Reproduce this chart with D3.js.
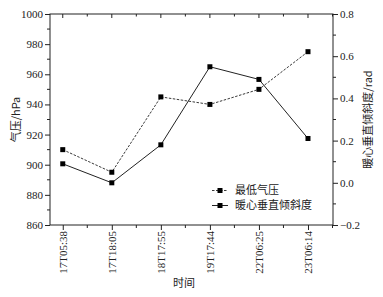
<!DOCTYPE html>
<html><head><meta charset="utf-8">
<script src="https://cdn.jsdelivr.net/npm/d3@7"></script>
<style>body{margin:0;background:#fff}svg{display:block}</style>
</head><body>
<svg id="c" width="383" height="297"></svg>
<script>
const categories = ["17T05:38","17T18:05","18T17:55","19T17:44","22T06:25","23T06:14"];
const pressure = [910, 895, 945, 940, 950, 975];
const tilt = [0.09, 0.00, 0.18, 0.55, 0.49, 0.21];
const leftTicks = [860, 880, 900, 920, 940, 960, 980, 1000];
const rightTicks = [-0.2, 0.0, 0.2, 0.4, 0.6, 0.8];
const seriesNames = ["最低气压", "暖心垂直倾斜度"];

const svg = d3.select("#c");
const L = 50, R = 333, T = 14, B = 225;
const x = d3.scaleLinear().domain([-0.26, 5.51]).range([L, R]);
const yL = d3.scaleLinear().domain([860, 1000]).range([B, T]);
const yR = d3.scaleLinear().domain([-0.2, 0.8]).range([B, T]);
const serif = "'Liberation Serif','Times New Roman',serif";
const cjk = "'Noto Sans CJK SC',sans-serif";
const col = "#222";

const g = svg.append("g");
// frame
g.append("rect").attr("x", L).attr("y", T).attr("width", R - L).attr("height", B - T)
  .attr("fill", "none").attr("stroke", col).attr("stroke-width", 1);

// left axis
const leftAxis = d3.axisLeft(yL).tickValues(leftTicks).tickSize(5).tickPadding(2).tickFormat(d3.format("d"));
const la = g.append("g").attr("transform", `translate(${L},0)`).call(leftAxis);
const leftMinor = d3.range(870, 1000, 20);
g.append("g").selectAll("line").data(leftMinor).join("line")
  .attr("x1", L - 3).attr("x2", L).attr("y1", d => yL(d)).attr("y2", d => yL(d)).attr("stroke", col);

// right axis
const rightAxis = d3.axisRight(yR).tickValues(rightTicks).tickSize(5).tickPadding(2)
  .tickFormat(d => d3.format(".1f")(d).replace("-", "\u2212"));
const ra = g.append("g").attr("transform", `translate(${R},0)`).call(rightAxis);
const rightMinor = [-0.1, 0.1, 0.3, 0.5, 0.7];
g.append("g").selectAll("line").data(rightMinor).join("line")
  .attr("x1", R).attr("x2", R + 3).attr("y1", d => yR(d)).attr("y2", d => yR(d)).attr("stroke", col);

// bottom axis
const idx = d3.range(categories.length);
const bottomAxis = d3.axisBottom(x).tickValues(idx).tickSize(5).tickPadding(3).tickFormat(i => categories[i]);
const ba = g.append("g").attr("transform", `translate(0,${B})`).call(bottomAxis);
ba.selectAll("text").attr("transform", "rotate(-90)").attr("text-anchor", "end")
  .attr("x", -6).attr("y", 0).attr("dy", "0.35em");
const xMinor = d3.range(0.5, 5.6, 1);
g.append("g").selectAll("line").data(xMinor).join("line")
  .attr("x1", d => x(d)).attr("x2", d => x(d)).attr("y1", B).attr("y2", B + 3).attr("stroke", col);
// top mirror ticks (inward)
g.append("g").selectAll("line").data(idx).join("line")
  .attr("x1", d => x(d)).attr("x2", d => x(d)).attr("y1", T).attr("y2", T + 4).attr("stroke", col);
g.append("g").selectAll("line").data(xMinor).join("line")
  .attr("x1", d => x(d)).attr("x2", d => x(d)).attr("y1", T).attr("y2", T + 2.5).attr("stroke", col);

[la, ra, ba].forEach(a => {
  a.select(".domain").remove();
  a.selectAll(".tick line").attr("stroke", col);
  a.selectAll("text").attr("font-family", serif).attr("font-size", 11).attr("fill", col);
});

// axis titles
g.append("text").attr("transform", `translate(16,${(T + B) / 2}) rotate(-90)`)
  .attr("text-anchor", "middle").attr("font-family", cjk).attr("font-size", 11).attr("fill", col)
  .attr("dy", "0.35em").text("气压/hPa");
g.append("text").attr("transform", `translate(368,${(T + B) / 2}) rotate(-90)`)
  .attr("text-anchor", "middle").attr("font-family", cjk).attr("font-size", 11).attr("fill", col)
  .attr("dy", "0.35em").text("暖心垂直倾斜度/rad");
g.append("text").attr("x", 184).attr("y", 287).attr("text-anchor", "middle")
  .attr("font-family", cjk).attr("font-size", 11).attr("fill", col).text("时间");

// series
const lineP = d3.line().x((d, i) => x(i)).y(d => yL(d));
const lineT = d3.line().x((d, i) => x(i)).y(d => yR(d));
g.append("path").datum(pressure).attr("d", lineP).attr("fill", "none")
  .attr("stroke", col).attr("stroke-width", 0.9).attr("stroke-dasharray", "2.5,1.5");
g.append("path").datum(tilt).attr("d", lineT).attr("fill", "none")
  .attr("stroke", col).attr("stroke-width", 1);
const ms = 5;
g.append("g").selectAll("rect").data(pressure).join("rect")
  .attr("x", (d, i) => x(i) - ms / 2).attr("y", d => yL(d) - ms / 2)
  .attr("width", ms).attr("height", ms).attr("fill", "#000");
g.append("g").selectAll("rect").data(tilt).join("rect")
  .attr("x", (d, i) => x(i) - ms / 2).attr("y", d => yR(d) - ms / 2)
  .attr("width", ms).attr("height", ms).attr("fill", "#000");

// legend
const lg = g.append("g");
seriesNames.forEach((name, k) => {
  const yy = 190.5 + k * 15;
  lg.append("line").attr("x1", 212).attr("x2", 228).attr("y1", yy).attr("y2", yy)
    .attr("stroke", col).attr("stroke-width", k === 0 ? 0.9 : 1)
    .attr("stroke-dasharray", k === 0 ? "2.5,1.5" : null);
  lg.append("rect").attr("x", 220 - ms / 2).attr("y", yy - ms / 2).attr("width", ms).attr("height", ms).attr("fill", "#000");
  lg.append("text").attr("x", 235).attr("y", yy).attr("dy", "0.35em")
    .attr("font-family", cjk).attr("font-size", 11).attr("fill", col).text(name);
});
</script>
</body></html>
